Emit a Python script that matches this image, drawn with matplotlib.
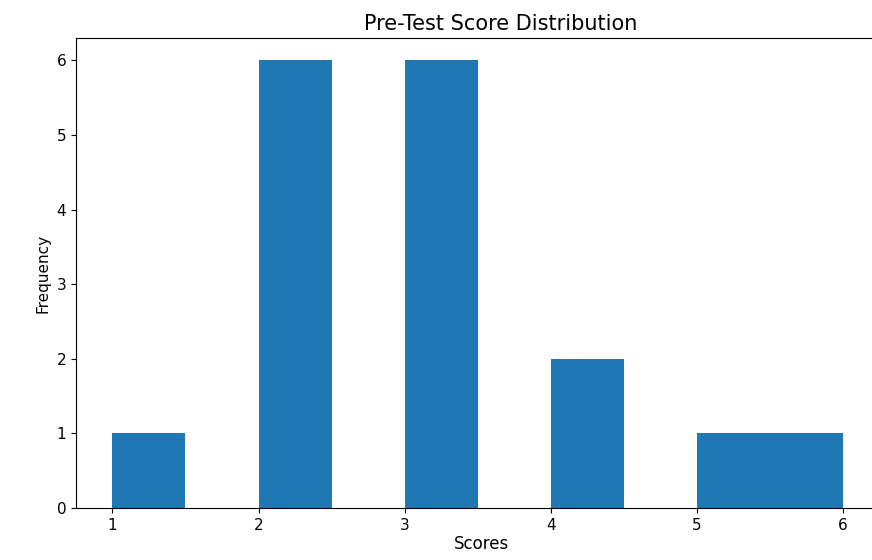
import matplotlib
matplotlib.use("Agg")
import matplotlib.pyplot as plt
import numpy as np

score_values = [1, 2, 3, 4, 5, 6]
score_counts = [1, 6, 6, 2, 1, 1]
scores = np.repeat(score_values, score_counts)

fig = plt.figure(figsize=(8.72, 5.6), dpi=100)
ax = fig.add_axes([0.087, 0.093, 0.93, 0.839])
ax.hist(scores, bins=10, color='#1f77b4')
ax.set_xlim(0.75, 6.25 + 0.05)
ax.spines['right'].set_visible(False)
ax.set_title('Pre-Test Score Distribution', fontsize=15, x=0.524)
ax.set_xlabel('Scores', fontsize=12, labelpad=2)
ax.set_ylabel('Frequency', fontsize=11)
ax.tick_params(labelsize=11)
fig.savefig('out.png', dpi=100)
